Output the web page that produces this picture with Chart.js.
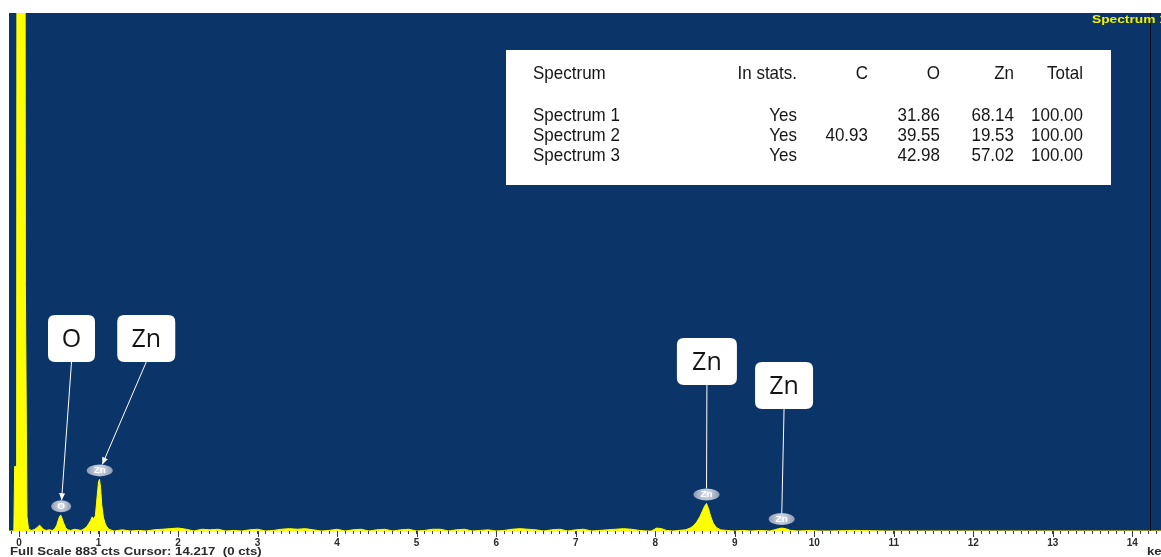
<!DOCTYPE html>
<html>
<head>
<meta charset="utf-8">
<title>EDS spectrum</title>
<script src="https://cdn.jsdelivr.net/npm/chart.js@4.4.1/dist/chart.umd.min.js"></script>
<style>
  html, body { margin: 0; padding: 0; background: #ffffff; }
  canvas { display: block; }
</style>
</head>
<body>
<canvas id="spectrum" width="1161" height="557"></canvas>
<script>
// Low-energy region: noise peak, C K, O K and Zn L lines (keV / counts)
const lowKeV = [-0.126, -0.065, -0.055, -0.03, -0.02, 0.065, 0.08, 0.1, 0.12, 0.16, 0.2, 0.235, 0.26, 0.28, 0.305, 0.34, 0.38, 0.42, 0.45, 0.475, 0.495, 0.51, 0.525, 0.54, 0.56, 0.585, 0.61, 0.65, 0.7, 0.74, 0.78, 0.82, 0.85, 0.875, 0.9, 0.92, 0.94, 0.96, 0.975, 0.99, 1.0, 1.012, 1.025, 1.04, 1.06, 1.08, 1.1, 1.13, 1.17];
const lowCts = [0, 0, 110, 110, 2600, 2600, 420, 25, 3, 1, 3, 7, 10, 7, 3, 1, 2, 1, 4, 10, 19, 25, 27, 22, 14, 6, 2, 1, 3, 2, 1, 4, 7, 12, 18, 24, 21, 26, 48, 70, 84, 88, 74, 45, 24, 14, 8, 3, 1];

// Background between the L and K lines
const bgKeV = [1.2, 1.3, 1.4, 1.5, 1.6, 1.7, 1.8, 1.9, 2.0, 2.1, 2.2, 2.3, 2.4, 2.5, 2.6, 2.7, 2.8, 2.9, 3.0, 3.1, 3.2, 3.3, 3.4, 3.5, 3.6, 3.7, 3.8, 3.9, 4.0, 4.1, 4.2, 4.3, 4.4, 4.5, 4.6, 4.7, 4.8, 4.9, 5.0, 5.1, 5.2, 5.3, 5.4, 5.5, 5.6, 5.7, 5.8, 5.9, 6.0, 6.1, 6.2, 6.3, 6.4, 6.5, 6.6, 6.7, 6.8, 6.9, 7.0, 7.1, 7.2, 7.3, 7.4, 7.5, 7.6, 7.7, 7.8, 7.9];
const bgCts = [0, 2, 0, 1, 0, 2, 3, 4, 5, 3, 0, 3, 2, 3, 0, 1, 0, 2, 3, 0, 1, 3, 4, 3, 4, 2, 0, 1, 3, 0, 2, 3, 0, 2, 3, 0, 2, 3, 0, 1, 3, 3, 0, 2, 3, 0, 1, 2, 0, 1, 3, 4, 3, 2, 0, 2, 3, 0, 2, 3, 0, 1, 2, 3, 4, 3, 1, 0];

// Zn K alpha / K beta region and the high-energy tail
const znKeV = [7.95, 8.02, 8.08, 8.14, 8.22, 8.3, 8.38, 8.44, 8.48, 8.52, 8.56, 8.59, 8.62, 8.645, 8.67, 8.7, 8.73, 8.77, 8.82, 8.9, 9.0, 9.1, 9.2, 9.32, 9.44, 9.5, 9.55, 9.59, 9.64, 9.7, 9.8, 9.95, 10.05, 10.2, 10.5, 10.9, 11.0, 11.2, 14.36];
const znCts = [0, 5, 4, 1, 0, 1, 2, 5, 9, 15, 24, 33, 42, 47, 38, 24, 13, 6, 2, 1, 0, 1, 0, 1, 0, 2, 4, 5, 4, 1, 0, 1, 0, 0, 1, 0, 0, 0, 0];

// Axis settings
const keVMin = -0.126;
const keVMax = 14.36;
const fullScaleCts = 883;
const cursorKeV = 14.217;
const cursorCts = 0;
const spectrumName = 'Spectrum 1';

// Element markers on the peaks
const markerLabels = ['O', 'Zn', 'Zn', 'Zn'];
const markerKeV = [0.53, 1.015, 8.645, 9.59];

// Call-out boxes linked to the markers
const calloutKeV = [0.66, 1.6, 8.65, 9.62];
const calloutTop = [302, 302, 325, 349];
const calloutWidth = [47, 58, 60, 58];
const calloutArrow = [true, true, false, false];

// Quantification table
const tableHeader = ['Spectrum', 'In stats.', 'C', 'O', 'Zn', 'Total'];
const tableSpectra = ['Spectrum 1', 'Spectrum 2', 'Spectrum 3'];
const tableInStats = ['Yes', 'Yes', 'Yes'];
const tableC = ['', '40.93', ''];
const tableO = ['31.86', '39.55', '42.98'];
const tableZn = ['68.14', '19.53', '57.02'];
const tableTotal = ['100.00', '100.00', '100.00'];

const energyKeV = lowKeV.concat(bgKeV, znKeV);
const counts = lowCts.concat(bgCts, znCts);
const points = energyKeV.map((x, i) => ({ x: x, y: counts[i] }));

const NAVY = '#0b3568';
const YELLOW = '#ffff00';
const SANS = "'Liberation Sans', Arial, sans-serif";

Chart.defaults.font.family = SANS;

function roundRect(ctx, x, y, w, h, r) {
  ctx.beginPath();
  ctx.moveTo(x + r, y);
  ctx.lineTo(x + w - r, y);
  ctx.quadraticCurveTo(x + w, y, x + w, y + r);
  ctx.lineTo(x + w, y + h - r);
  ctx.quadraticCurveTo(x + w, y + h, x + w - r, y + h);
  ctx.lineTo(x + r, y + h);
  ctx.quadraticCurveTo(x, y + h, x, y + h - r);
  ctx.lineTo(x, y + r);
  ctx.quadraticCurveTo(x, y, x + r, y);
  ctx.closePath();
}

// text with independent horizontal / vertical scaling
function scaledText(ctx, text, x, y, sx, sy, align) {
  ctx.save();
  ctx.translate(x, y);
  ctx.scale(sx, sy);
  ctx.textAlign = align;
  ctx.textBaseline = 'middle';
  ctx.fillText(text, 0, 0);
  ctx.restore();
}

function peakTop(keV) {
  let m = 0;
  energyKeV.forEach((e, i) => { if (Math.abs(e - keV) <= 0.035 && counts[i] > m) m = counts[i]; });
  return m;
}

const backdrop = {
  id: 'backdrop',
  beforeDatasetsDraw(chart) {
    const { ctx, chartArea: a } = chart;
    ctx.save();
    ctx.fillStyle = NAVY;
    ctx.fillRect(a.left, a.top, a.right - a.left, a.bottom - a.top);
    ctx.restore();
  }
};

const overlay = {
  id: 'overlay',
  afterDraw(chart) {
    const { ctx, chartArea: a } = chart;
    const xs = chart.scales.x, ys = chart.scales.y;
    ctx.save();

    // cursor line
    const cx = Math.round(xs.getPixelForValue(cursorKeV)) + 0.5;
    ctx.strokeStyle = 'rgba(0,0,0,0.7)';
    ctx.lineWidth = 1;
    ctx.beginPath(); ctx.moveTo(cx, a.top); ctx.lineTo(cx, a.bottom); ctx.stroke();

    // longer ticks at whole keV
    ctx.strokeStyle = '#3a3a3a';
    for (let k = 0; k <= Math.floor(keVMax); k++) {
      const px = Math.round(xs.getPixelForValue(k)) + 0.5;
      ctx.beginPath(); ctx.moveTo(px, a.bottom); ctx.lineTo(px, a.bottom + 6); ctx.stroke();
    }

    // spectrum name, top right
    ctx.fillStyle = '#f0f000';
    ctx.font = 'bold 11px ' + SANS;
    scaledText(ctx, spectrumName, 1092, a.top + 7, 1.25, 1, 'left');

    // element markers and call-outs
    markerLabels.forEach((lab, i) => {
      const mx = xs.getPixelForValue(markerKeV[i]);
      const my = ys.getPixelForValue(peakTop(markerKeV[i])) - 9;
      const rx = lab.length > 1 ? 13 : 10, ry = 6;

      const bw = calloutWidth[i], bh = 47;
      const bx = xs.getPixelForValue(calloutKeV[i]);
      const by = a.top + calloutTop[i];
      // leader line from the box to the marker edge
      const dx = bx - mx, dy = (by + bh) - my;
      const t = 1 / Math.sqrt((dx / rx) ** 2 + (dy / ry) ** 2);
      const ex = mx + dx * t, ey = my + dy * t;
      ctx.strokeStyle = '#ffffff';
      ctx.lineWidth = 1;
      ctx.beginPath(); ctx.moveTo(bx, by + bh); ctx.lineTo(ex, ey); ctx.stroke();
      if (calloutArrow[i]) {
        const ang = Math.atan2(ey - (by + bh), ex - bx);
        ctx.fillStyle = '#ffffff';
        ctx.beginPath();
        ctx.moveTo(ex, ey);
        ctx.lineTo(ex - 7 * Math.cos(ang) + 3 * Math.sin(ang), ey - 7 * Math.sin(ang) - 3 * Math.cos(ang));
        ctx.lineTo(ex - 7 * Math.cos(ang) - 3 * Math.sin(ang), ey - 7 * Math.sin(ang) + 3 * Math.cos(ang));
        ctx.closePath(); ctx.fill();
      }

      ctx.fillStyle = '#ffffff';
      roundRect(ctx, bx - bw / 2, by, bw, bh, 7);
      ctx.fill();
      ctx.fillStyle = '#141414';
      ctx.font = "25px 'Open Sans', sans-serif";
      scaledText(ctx, lab, bx, by + bh / 2 + 1, 1, 1, 'center');

      // marker ellipse
      const g = ctx.createRadialGradient(mx, my - 1, 1, mx, my, rx);
      g.addColorStop(0, 'rgba(228,232,240,0.95)');
      g.addColorStop(1, 'rgba(150,162,184,0.92)');
      ctx.fillStyle = g;
      ctx.beginPath(); ctx.ellipse(mx, my, rx, ry, 0, 0, Math.PI * 2); ctx.fill();
      ctx.fillStyle = '#ffffff';
      ctx.font = 'bold 9px ' + SANS;
      scaledText(ctx, lab, mx, my + 0.5, 1.1, 1, 'center');
    });

    // quantification table
    ctx.fillStyle = '#ffffff';
    ctx.fillRect(506, 50, 605, 135);
    ctx.fillStyle = '#161616';
    ctx.font = '17px ' + SANS;
    const colRight = [null, 797, 868, 940, 1014, 1083];
    const drawRow = (cells, y) => {
      scaledText(ctx, cells[0], 533, y, 1, 1.12, 'left');
      for (let c = 1; c < cells.length; c++) scaledText(ctx, cells[c], colRight[c], y, 1, 1.12, 'right');
    };
    drawRow(tableHeader, 74);
    const rowY = [116, 136, 156];
    tableSpectra.forEach((s, r) => {
      drawRow([s, tableInStats[r], tableC[r], tableO[r], tableZn[r], tableTotal[r]], rowY[r]);
    });

    // status line and unit
    ctx.fillStyle = '#2a2a2a';
    ctx.font = 'bold 11px ' + SANS;
    scaledText(ctx, 'Full Scale ' + fullScaleCts + ' cts Cursor: ' + cursorKeV.toFixed(3) + '  (' + cursorCts + ' cts)', 10, 552, 1.2, 1, 'left');
    scaledText(ctx, 'keV', 1147, 552, 1.2, 1, 'left');
    ctx.restore();
  }
};

new Chart(document.getElementById('spectrum'), {
  type: 'line',
  data: {
    datasets: [{
      data: points,
      borderColor: YELLOW,
      backgroundColor: YELLOW,
      borderWidth: 1,
      pointRadius: 0,
      fill: 'origin',
      tension: 0
    }]
  },
  options: {
    responsive: false,
    devicePixelRatio: 1,
    animation: false,
    events: [],
    layout: { padding: { top: 13, left: 9, right: 0, bottom: 0 } },
    plugins: { legend: { display: false }, tooltip: { enabled: false } },
    scales: {
      x: {
        type: 'linear',
        min: keVMin,
        max: keVMax,
        border: { display: false },
        grid: { drawOnChartArea: false, drawTicks: true, tickLength: 3, tickColor: '#3a3a3a', tickWidth: 1 },
        ticks: {
          stepSize: 0.1,
          includeBounds: false,
          autoSkip: false,
          maxRotation: 0,
          minRotation: 0,
          padding: 3,
          color: '#2a2a2a',
          font: { size: 10, weight: 'bold' },
          callback: (v) => Math.abs(v - Math.round(v)) < 1e-6 ? String(Math.round(v)) : ''
        },
        afterFit: (scale) => { scale.height = 26; }
      },
      y: { display: false, min: 0, max: fullScaleCts }
    }
  },
  plugins: [backdrop, overlay]
});
</script>
</body>
</html>
